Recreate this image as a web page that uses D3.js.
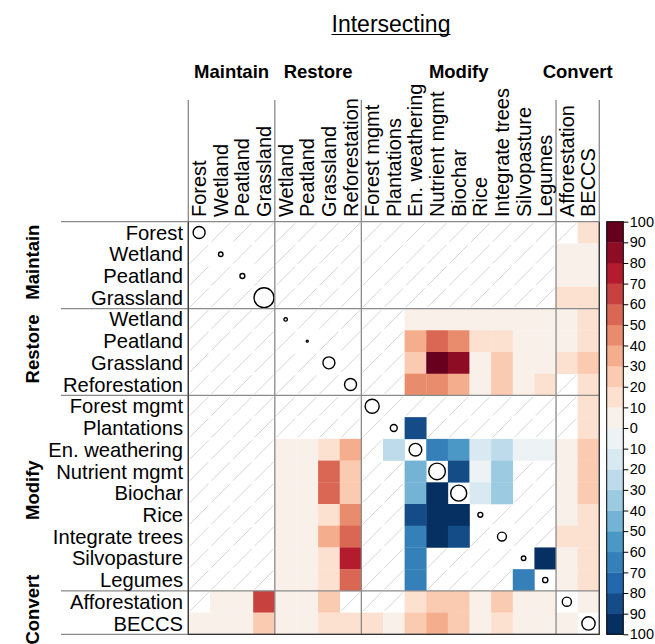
<!DOCTYPE html>
<html><head><meta charset="utf-8">
<script src="https://cdn.jsdelivr.net/npm/d3@7/dist/d3.min.js"></script>
<style>
body{margin:0;background:#fff}
svg{display:block}
text{font-family:"Liberation Sans",Arial,Helvetica,sans-serif;fill:#000}
</style>
</head><body>
<svg id="chart" width="655" height="644"></svg>
<script>
// ---------------- data ----------------
const groupNames = ["Maintain", "Restore", "Modify", "Convert"];
const groupSizes = [4, 4, 9, 2];
const practices = ["Forest", "Wetland", "Peatland", "Grassland",
  "Wetland", "Peatland", "Grassland", "Reforestation",
  "Forest mgmt", "Plantations", "En. weathering", "Nutrient mgmt", "Biochar",
  "Rice", "Integrate trees", "Silvopasture", "Legumes",
  "Afforestation", "BECCS"];
// size of each practice (circle on the diagonal)
const diagonalSize = [36, 5, 6, 100, 3, 1, 36, 36, 49, 12, 40, 69, 64, 6, 20, 5, 7, 21, 44];
// overlap values: positive = red scale, negative = blue scale, null = no data
const _ = null;
const cellValues = [
  [_,_,_,_,_,_,_,_,_,_,_,_,_,_,_,_,_,_,15],
  [_,_,_,_,_,_,_,_,_,_,_,_,_,_,_,_,_,5,5],
  [_,_,_,_,_,_,_,_,_,_,_,_,_,_,_,_,_,5,5],
  [_,_,_,_,_,_,_,_,_,_,_,_,_,_,_,_,_,15,15],
  [_,_,_,_,_,_,_,_,_,_,5,5,5,5,5,5,5,5,15],
  [_,_,_,_,_,_,_,_,_,_,35,55,45,15,15,5,5,5,15],
  [_,_,_,_,_,_,_,_,_,_,25,95,85,5,25,5,5,15,25],
  [_,_,_,_,_,_,_,_,_,_,45,45,35,5,25,5,15,_,15],
  [_,_,_,_,_,_,_,_,_,_,_,_,_,_,_,_,_,_,15],
  [_,_,_,_,_,_,_,_,_,_,-85,_,_,_,_,_,_,_,15],
  [_,_,_,_,5,5,15,35,_,-25,_,-65,-55,-15,-25,-5,-5,5,25],
  [_,_,_,_,5,5,55,25,_,_,-45,_,-85,-5,-35,_,_,5,25],
  [_,_,_,_,5,5,55,25,_,_,-45,-95,_,-15,-35,_,_,5,25],
  [_,_,_,_,5,5,15,45,_,_,-85,-95,-95,_,_,_,_,5,15],
  [_,_,_,_,5,5,35,55,_,_,-65,-95,-85,_,_,_,_,15,15],
  [_,_,_,_,5,5,15,75,_,_,-65,_,_,_,_,_,-95,5,15],
  [_,_,_,_,5,5,15,55,_,_,-65,_,_,_,_,-65,_,5,15],
  [_,5,5,65,5,5,25,_,_,_,15,25,25,5,25,5,5,_,5],
  [5,5,5,25,5,5,15,15,15,5,25,35,25,5,15,5,5,5,_]
];
const legendTicks = [-100,-90,-80,-70,-60,-50,-40,-30,-20,-10,0,10,20,30,40,50,60,70,80,90,100];
const rdbu11 = ["#67001f","#b2182b","#d6604d","#f4a582","#fddbc7","#f7f7f7","#d1e5f0","#92c5de","#4393c3","#2166ac","#053061"];
const titleText = "Intersecting";

// ---------------- layout ----------------
const svg = d3.select("#chart");
const n = practices.length;
const gx0 = 188.3, gx1 = 599.3, gy0 = 221.7, gy1 = 634.3;
const x = d3.scaleBand().domain(d3.range(n)).range([gx0, gx1]);
const y = d3.scaleBand().domain(d3.range(n)).range([gy0, gy1]);
const bw = x.bandwidth(), bh = y.bandwidth();

// 20-bin palette like colorRampPalette(RdBu)(20)
const ramp = d3.piecewise(d3.interpolateRgb, rdbu11);
const palette = d3.range(20).map(k => ramp(k / 19));
const color = d3.scaleQuantize().domain([-100, 100]).range(palette.slice().reverse());
const rScale = d3.scaleSqrt().domain([0, 100]).range([0, 10]);

const cells = [];
cellValues.forEach((row, i) => row.forEach((v, j) => cells.push({i, j, v, diag: i === j})));

const gCells = svg.append("g");
// hatch for missing cells
gCells.selectAll("line.hatch").data(cells.filter(d => d.v === null && !d.diag)).join("line")
  .attr("class", "hatch")
  .attr("x1", d => x(d.j) + 1.5).attr("y1", d => y(d.i) + bh - 1.5)
  .attr("x2", d => x(d.j) + bw - 1.5).attr("y2", d => y(d.i) + 1.5)
  .attr("stroke", "#d6d6d6").attr("stroke-width", 1);
// coloured cells
gCells.selectAll("rect.cell").data(cells.filter(d => d.v !== null)).join("rect")
  .attr("class", "cell")
  .attr("x", d => x(d.j)).attr("y", d => y(d.i))
  .attr("width", bw + 0.3).attr("height", bh + 0.3)
  .attr("fill", d => color(d.v));
// diagonal circles
gCells.selectAll("circle").data(diagonalSize).join("circle")
  .attr("cx", (d, i) => x(i) + bw / 2).attr("cy", (d, i) => y(i) + bh / 2)
  .attr("r", d => rScale(d))
  .attr("fill", "none").attr("stroke", "#000").attr("stroke-width", 1.4);

// group boundaries
const bounds = [0];
groupSizes.forEach((s, k) => bounds.push(bounds[k] + s));
const lineColor = "#8a8a8a";
bounds.forEach(b => {
  const xp = b < n ? x(b) : gx1;
  const yp = b < n ? y(b) : gy1;
  svg.append("line").attr("x1", xp).attr("x2", xp).attr("y1", 100).attr("y2", gy1)
    .attr("stroke", lineColor).attr("stroke-width", 1.3);
  svg.append("line").attr("x1", 61).attr("x2", gx1).attr("y1", yp).attr("y2", yp)
    .attr("stroke", lineColor).attr("stroke-width", 1.3);
});
svg.append("path")
  .attr("d", `M${gx0},${gy0}V${gy1}H${gx1}V${gy0}`)
  .attr("fill", "none").attr("stroke", "#333").attr("stroke-width", 1.2);

// row labels
svg.append("g").selectAll("text").data(practices).join("text")
  .attr("x", 183).attr("y", (d, i) => y(i) + bh / 2).attr("dy", "0.35em")
  .attr("text-anchor", "end").attr("font-size", 20.2).text(d => d);
// column labels
svg.append("g").selectAll("text").data(practices).join("text")
  .attr("transform", (d, i) => `translate(${x(i) + bw / 2},217) rotate(-90)`)
  .attr("dy", "0.35em").attr("text-anchor", "start").attr("font-size", 20).text(d => d);

// group labels
groupNames.forEach((g, k) => {
  const cx = (x(bounds[k]) + (bounds[k + 1] < n ? x(bounds[k + 1]) : gx1)) / 2;
  const cy = (y(bounds[k]) + (bounds[k + 1] < n ? y(bounds[k + 1]) : gy1)) / 2;
  svg.append("text").attr("x", cx).attr("y", 78).attr("text-anchor", "middle")
    .attr("font-size", 18.5).attr("font-weight", "bold").text(g);
  svg.append("text").attr("transform", `translate(39,${cy - 3}) rotate(-90)`)
    .attr("text-anchor", "middle").attr("font-size", 18.5).attr("font-weight", "bold").text(g);
});

// title
const title = svg.append("text").attr("x", 391).attr("y", 31.5).attr("text-anchor", "middle")
  .attr("font-size", 23).text(titleText);
const tw = title.node().getComputedTextLength();
svg.append("line").attr("x1", 391 - tw / 2).attr("x2", 391 + tw / 2)
  .attr("y1", 34.5).attr("y2", 34.5).attr("stroke", "#000").attr("stroke-width", 1.2);

// colour bar
const cbx = 606.7, cbw = 16.6;
const cb = d3.scaleLinear().domain([100, -100]).range([gy0, gy1]);
const bins = d3.range(20).map(k => ({lo: -100 + k * 10, hi: -90 + k * 10}));
svg.append("g").selectAll("rect").data(bins).join("rect")
  .attr("x", cbx).attr("y", d => cb(d.hi)).attr("width", cbw)
  .attr("height", d => cb(d.lo) - cb(d.hi) + 0.3)
  .attr("fill", d => color((d.lo + d.hi) / 2));
svg.append("rect").attr("x", cbx).attr("y", gy0).attr("width", cbw).attr("height", gy1 - gy0)
  .attr("fill", "none").attr("stroke", "#000").attr("stroke-width", 1);
const axis = svg.append("g").attr("transform", `translate(${cbx + cbw},0)`)
  .call(d3.axisRight(cb).tickValues(legendTicks).tickFormat(d => Math.abs(d)).tickSize(5).tickPadding(1.5));
axis.select(".domain").remove();
axis.selectAll("text").attr("font-size", 14.5).attr("font-family", "'Liberation Sans',Arial,sans-serif").attr("fill", "#000");
axis.selectAll("line").attr("stroke", "#000");
</script>
</body></html>
